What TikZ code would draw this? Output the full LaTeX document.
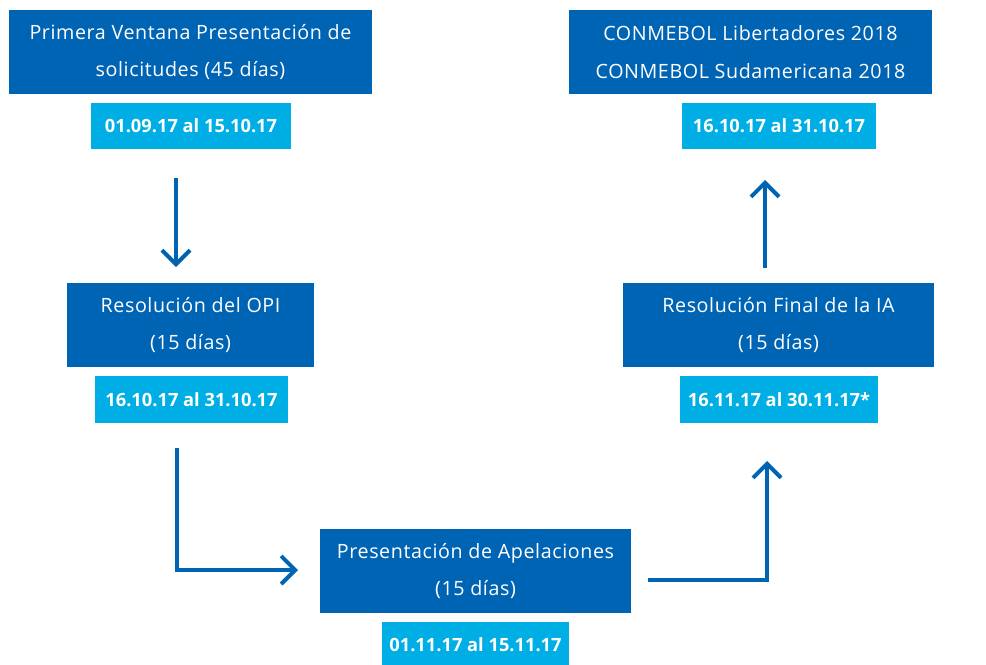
\documentclass[tikz,border=0pt]{standalone}
\usepackage{fontspec}
\setmainfont{Open Sans}
\newfontfamily\etapafont[LetterSpace=3]{Open Sans}
\usepackage{tikz}
\usetikzlibrary{arrows.meta, positioning}
\definecolor{azulosc}{RGB}{0,100,180}
\definecolor{azulcla}{RGB}{0,174,230}

\begin{document}
\begin{tikzpicture}[x=0.025cm, y=-0.025cm,
        etapa/.style={fill=azulosc, text=white, align=center, minimum height=2.1cm, inner sep=2pt,
          font=\etapafont\fontsize{14}{27}\selectfont},
        fecha/.style={fill=azulcla, text=white, minimum height=1.15cm, inner sep=2pt,
          font=\fontsize{13}{17}\selectfont\bfseries},
        flecha/.style={draw=azulosc, line width=0.1cm, -{Straight Barb[length=0.35cm, width=0.7cm]}},
      ]
        \useasboundingbox (0,0) rectangle (986,664);

        % Primera ventana
        \node[etapa, minimum width=9.075cm] (ventana) at (190.5,52) {Primera Ventana Presentación de\\solicitudes (45 días)};
        \node[fecha, minimum width=5cm] (fventana) at (191,126) {01.09.17 al 15.10.17};

        % Resolucion OPI
        \node[etapa, minimum width=6.175cm] (opi) at (190.5,325) {Resolución del OPI\\(15 días)};
        \node[fecha, minimum width=4.825cm] (fopi) at (191.5,399.5) {16.10.17 al 31.10.17};

        % Apelaciones
        \node[etapa, minimum width=7.775cm] (apel) at (475.5,571) {Presentación de Apelaciones\\(15 días)};
        \node[fecha, minimum width=4.675cm] (fapel) at (475.5,645) {01.11.17 al 15.11.17};

        % Resolucion final IA
        \node[etapa, minimum width=7.775cm] (ia) at (778.5,325) {Resolución Final de la IA\\(15 días)};
        \node[fecha, minimum width=4.95cm] (fia) at (779,399.5) {16.11.17 al 30.11.17*};

        % CONMEBOL
        \node[etapa, minimum width=9.075cm] (conmebol) at (750.5,52) {CONMEBOL Libertadores 2018\\CONMEBOL Sudamericana 2018};
        \node[fecha, minimum width=4.85cm] (fconmebol) at (779,126) {16.10.17 al 31.10.17};

        % Flechas
        \coordinate (a1) at (176,178);
        \coordinate (a2) at (176,267);
        \draw[flecha] (a1) -- (a2);

        \coordinate (b1) at (177,448);
        \coordinate (b2) at (298,570);
        \draw[flecha] (b1) |- (b2);

        \coordinate (c1) at (648,580);
        \coordinate (c2) at (767,461);
        \draw[flecha] (c1) -| (c2);

        \coordinate (d1) at (765,268);
        \coordinate (d2) at (765,180);
        \draw[flecha] (d1) -- (d2);
      \end{tikzpicture}
\end{document}
